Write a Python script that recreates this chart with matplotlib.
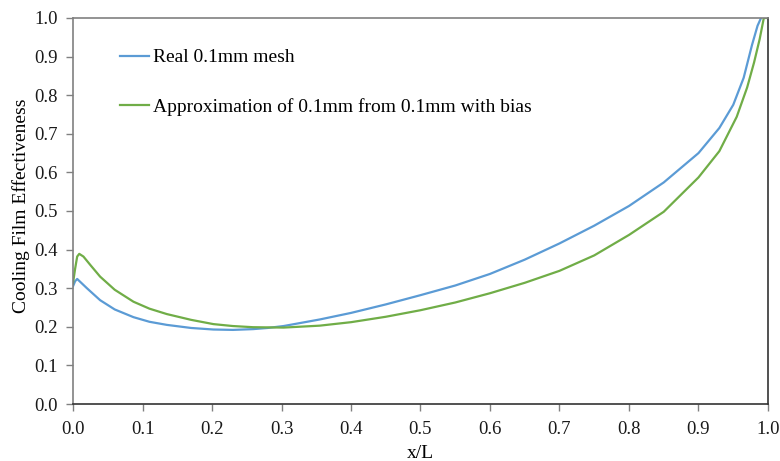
import matplotlib
matplotlib.use('Agg')
import matplotlib.pyplot as plt

plt.rcParams['font.family'] = ['Liberation Serif', 'DejaVu Serif']

# datos
x_real = [0.0, 0.003, 0.006, 0.02, 0.039, 0.06, 0.087, 0.11, 0.135, 0.17, 0.202,
          0.23, 0.259, 0.28, 0.303, 0.355, 0.4, 0.45, 0.5, 0.55, 0.6, 0.65,
          0.7, 0.75, 0.8, 0.85, 0.9, 0.93, 0.95, 0.965, 0.977, 0.985, 0.99]
y_real = [0.305, 0.318, 0.324, 0.3, 0.269, 0.245, 0.225, 0.213, 0.205, 0.197, 0.193,
          0.192, 0.194, 0.197, 0.202, 0.219, 0.236, 0.258, 0.282, 0.307, 0.337, 0.374,
          0.416, 0.462, 0.513, 0.574, 0.65, 0.715, 0.775, 0.845, 0.93, 0.98, 1.0]

x_aprox = [0.0, 0.003, 0.006, 0.009, 0.015, 0.025, 0.039, 0.06, 0.087, 0.11, 0.135,
           0.17, 0.202, 0.23, 0.259, 0.303, 0.355, 0.4, 0.45, 0.5, 0.55, 0.6,
           0.65, 0.7, 0.75, 0.8, 0.85, 0.9, 0.93, 0.955, 0.97, 0.98, 0.988, 0.994, 1.0]
y_aprox = [0.313, 0.35, 0.382, 0.389, 0.382, 0.36, 0.33, 0.296, 0.265, 0.247, 0.233,
           0.218, 0.207, 0.202, 0.199, 0.198, 0.203, 0.212, 0.226, 0.243, 0.263, 0.287,
           0.314, 0.345, 0.385, 0.438, 0.498, 0.587, 0.655, 0.744, 0.82, 0.885, 0.945, 1.0, 1.0]

ticks = [i / 10 for i in range(11)]

fig = plt.figure(figsize=(7.8, 4.61), dpi=100)
ax = fig.add_axes([0.0936, 0.1236, 0.891, 0.8374])

ax.plot(x_real, y_real, color='#5B9BD5', lw=1.6, label='Real 0.1mm mesh')
ax.plot(x_aprox, y_aprox, color='#70AD47', lw=1.6,
        label='Approximation of 0.1mm from 0.1mm with bias')

ax.set_xlim(0, 1)
ax.set_ylim(0, 1)
ax.set_xticks(ticks)
ax.set_yticks(ticks)
ax.set_xticklabels(['%.1f' % t for t in ticks])
ax.set_yticklabels(['%.1f' % t for t in ticks])
ax.tick_params(direction='out', length=5, width=1, color='#808080',
               labelsize=13.5, labelcolor='#1a1a1a')
ax.tick_params(axis='y', pad=6)
ax.tick_params(axis='x', pad=7)

for lado in ['left', 'top']:
    ax.spines[lado].set_color('#808080')
for lado in ['bottom', 'right']:
    ax.spines[lado].set_color('#333333')
for s in ax.spines.values():
    s.set_linewidth(1.2)

ax.set_xlabel('x/L', fontsize=14)
ax.set_ylabel('Cooling Film Effectiveness', fontsize=14)
ax.xaxis.set_label_coords(0.5, -0.106)
ax.yaxis.set_label_coords(-0.062, 0.513)

ax.legend(loc='upper left', bbox_to_anchor=(0.068, 0.92), frameon=False,
          fontsize=14, handlelength=1.5, handletextpad=0.16,
          labelspacing=1.61, borderpad=0, borderaxespad=0)

plt.savefig('out.png', dpi=100)
